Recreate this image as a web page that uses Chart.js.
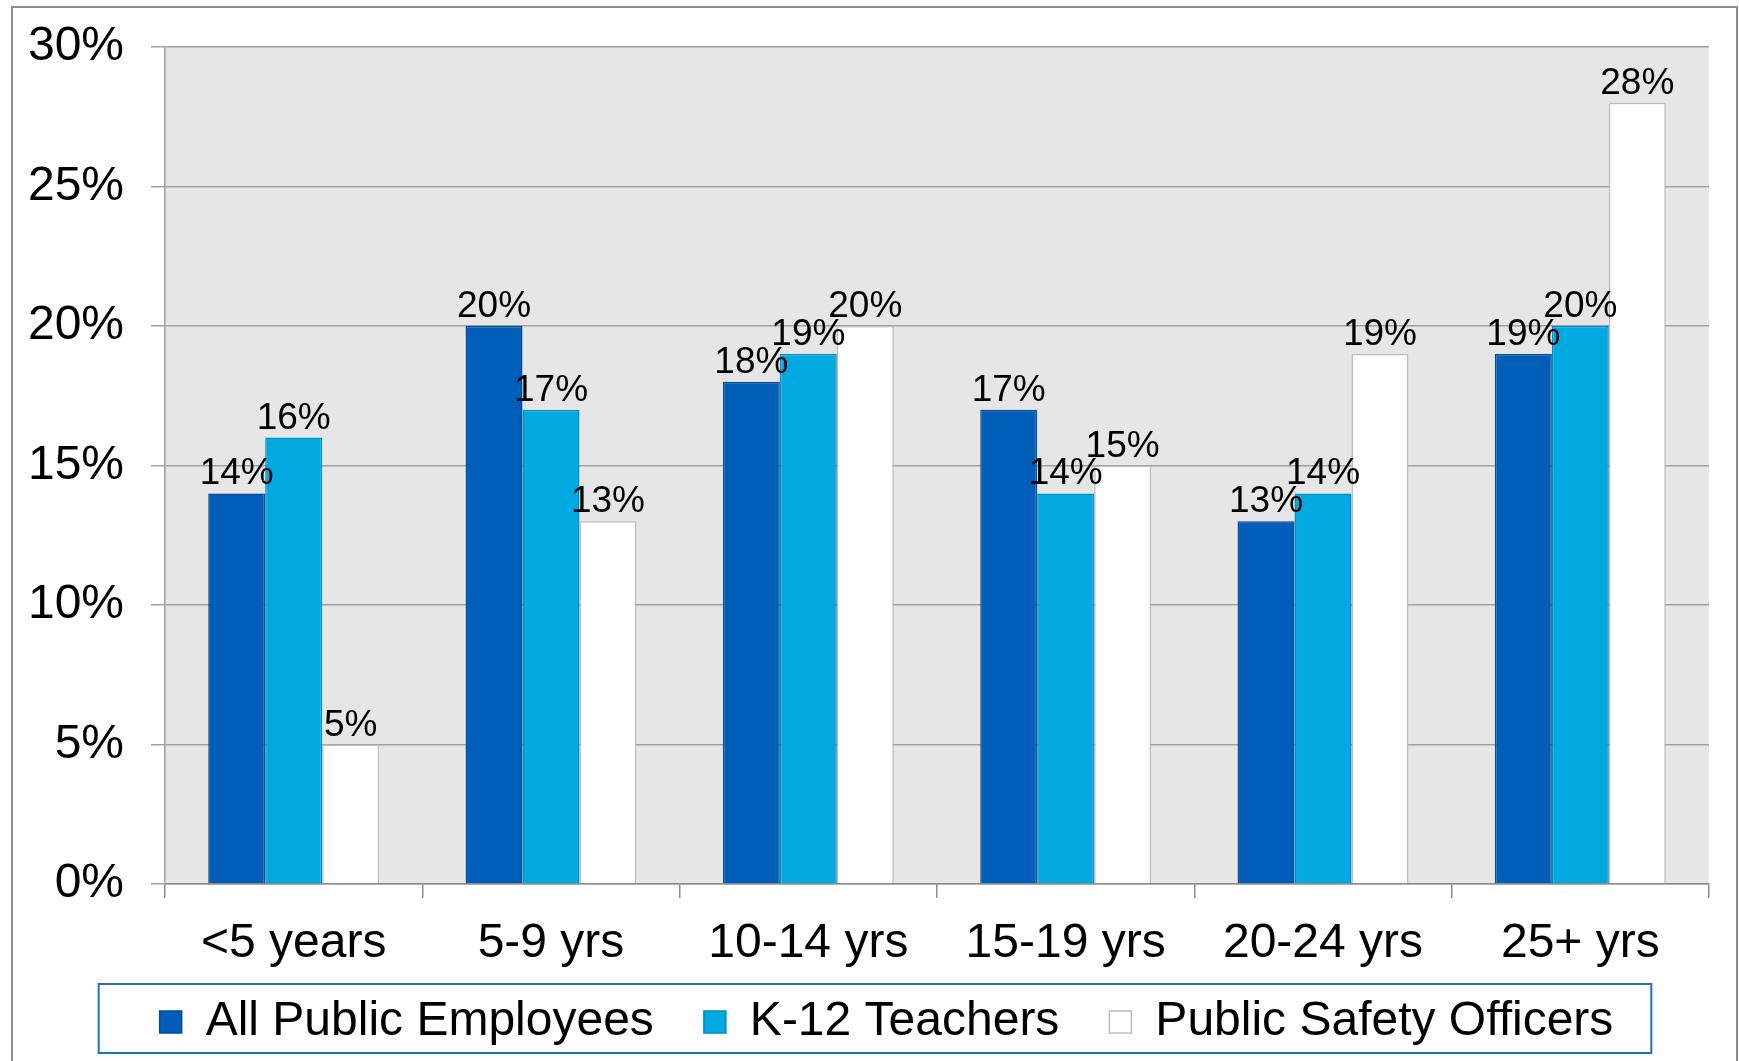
<!DOCTYPE html>
<html>
<head>
<meta charset="utf-8">
<script src="https://cdn.jsdelivr.net/npm/chart.js@4"></script>
<style>
  html, body { margin: 0; padding: 0; background: #fff; }
  #wrap { width: 1739px; height: 1061px; position: relative; }
</style>
</head>
<body>
<div id="wrap"><canvas id="c" width="1739" height="1061"></canvas></div>
<script>
const categories = ["<5 years", "5-9 yrs", "10-14 yrs", "15-19 yrs", "20-24 yrs", "25+ yrs"];
const seriesNames = ["All Public Employees", "K-12 Teachers", "Public Safety Officers"];
const allPublicEmployees = [14, 20, 18, 17, 13, 19];
const k12Teachers = [16, 17, 19, 14, 14, 20];
const publicSafetyOfficers = [5, 13, 20, 15, 19, 28];
const yTicks = [0, 5, 10, 15, 20, 25, 30];

const FONT = '"Liberation Sans", Arial, sans-serif';
Chart.defaults.font.family = FONT;
Chart.defaults.color = '#000';

const LEGEND_SHIFT = 26;

const frame = {
  id: 'frame',
  beforeDraw(chart) {
    const {ctx, chartArea: a} = chart;
    ctx.save();
    ctx.fillStyle = '#fff';
    ctx.fillRect(0, 0, chart.width, chart.height);
    ctx.strokeStyle = '#8c8c8c';
    ctx.lineWidth = 2;
    ctx.strokeRect(12, 7, 1725, 1060);
    ctx.fillStyle = '#e6e6e6';
    ctx.fillRect(a.left, a.top, a.right - a.left, a.bottom - a.top);
    ctx.restore();
    const lg = chart.legend;
    if (lg && !lg._shifted) {
      lg.left += LEGEND_SHIFT;
      lg.right += LEGEND_SHIFT;
      lg._shifted = true;
    }
  },
  afterDraw(chart) {
    const lg = chart.legend;
    if (!lg || !lg.legendHitBoxes || !lg.legendHitBoxes.length) return;
    const hb = lg.legendHitBoxes;
    const first = hb[0], last = hb[hb.length - 1];
    const ctx = chart.ctx;
    ctx.save();
    ctx.strokeStyle = '#1f6fc4';
    ctx.lineWidth = 2;
    const x0 = first.left + LEGEND_SHIFT - 61, x1 = last.left + LEGEND_SHIFT + last.width + 38;
    const yc = first.top + first.height / 2;
    ctx.strokeRect(x0, yc - 38, x1 - x0, 69);
    ctx.restore();
  }
};

const dataLabels = {
  id: 'dataLabels',
  afterDatasetsDraw(chart) {
    const ctx = chart.ctx;
    ctx.save();
    ctx.font = '37px ' + FONT;
    ctx.fillStyle = '#000';
    ctx.textAlign = 'center';
    ctx.textBaseline = 'alphabetic';
    chart.data.datasets.forEach((ds, i) => {
      chart.getDatasetMeta(i).data.forEach((bar, j) => {
        ctx.fillText(ds.data[j] + '%', bar.x, bar.y - 9);
      });
    });
    ctx.restore();
  }
};

new Chart(document.getElementById('c'), {
  type: 'bar',
  data: {
    labels: categories,
    datasets: [
      { label: seriesNames[0], data: allPublicEmployees, backgroundColor: '#005eb8', borderColor: '#004c99', borderWidth: 1.5 },
      { label: seriesNames[1], data: k12Teachers, backgroundColor: '#00a9e0', borderColor: '#008fc2', borderWidth: 1.5 },
      { label: seriesNames[2], data: publicSafetyOfficers, backgroundColor: '#ffffff', borderColor: '#bdbdbd', borderWidth: 1.5 }
    ]
  },
  options: {
    responsive: false,
    animation: false,
    devicePixelRatio: 1,
    layout: { padding: { left: 12, right: 30, top: 47, bottom: 5 } },
    datasets: { bar: { categoryPercentage: 0.664, barPercentage: 1.0 } },
    plugins: {
      tooltip: { enabled: false },
      legend: {
        position: 'bottom',
        labels: {
          font: { size: 48, family: FONT },
          color: '#000',
          boxWidth: 22,
          boxHeight: 22,
          padding: 50
        }
      }
    },
    scales: {
      x: {
        grid: { color: '#8c8c8c', lineWidth: 1.5, tickLength: 14, offset: true, drawOnChartArea: false, tickColor: '#8c8c8c' },
        border: { color: '#8c8c8c', width: 1.5 },
        ticks: { font: { size: 48 }, padding: 17, maxRotation: 0 },
        afterFit(s) {
          s.height = 64;
          s.paddingLeft = 0; s.paddingRight = 0;
          s._computeLabelArea = () => undefined;
        }
      },
      y: {
        min: 0, max: 30,
        afterBuildTicks(s) { s.ticks = yTicks.map(v => ({ value: v })); },
        grid: { color: '#a0a0a0', lineWidth: 1.5, tickLength: 14 },
        border: { color: '#a0a0a0', width: 1.5 },
        ticks: { font: { size: 48 }, padding: 27, callback: v => v + '%' },
        afterFit(s) {
          s.width = 153;
          s.paddingTop = 0; s.paddingBottom = 0;
        }
      }
    }
  },
  plugins: [frame, dataLabels]
});
</script>
</body>
</html>
